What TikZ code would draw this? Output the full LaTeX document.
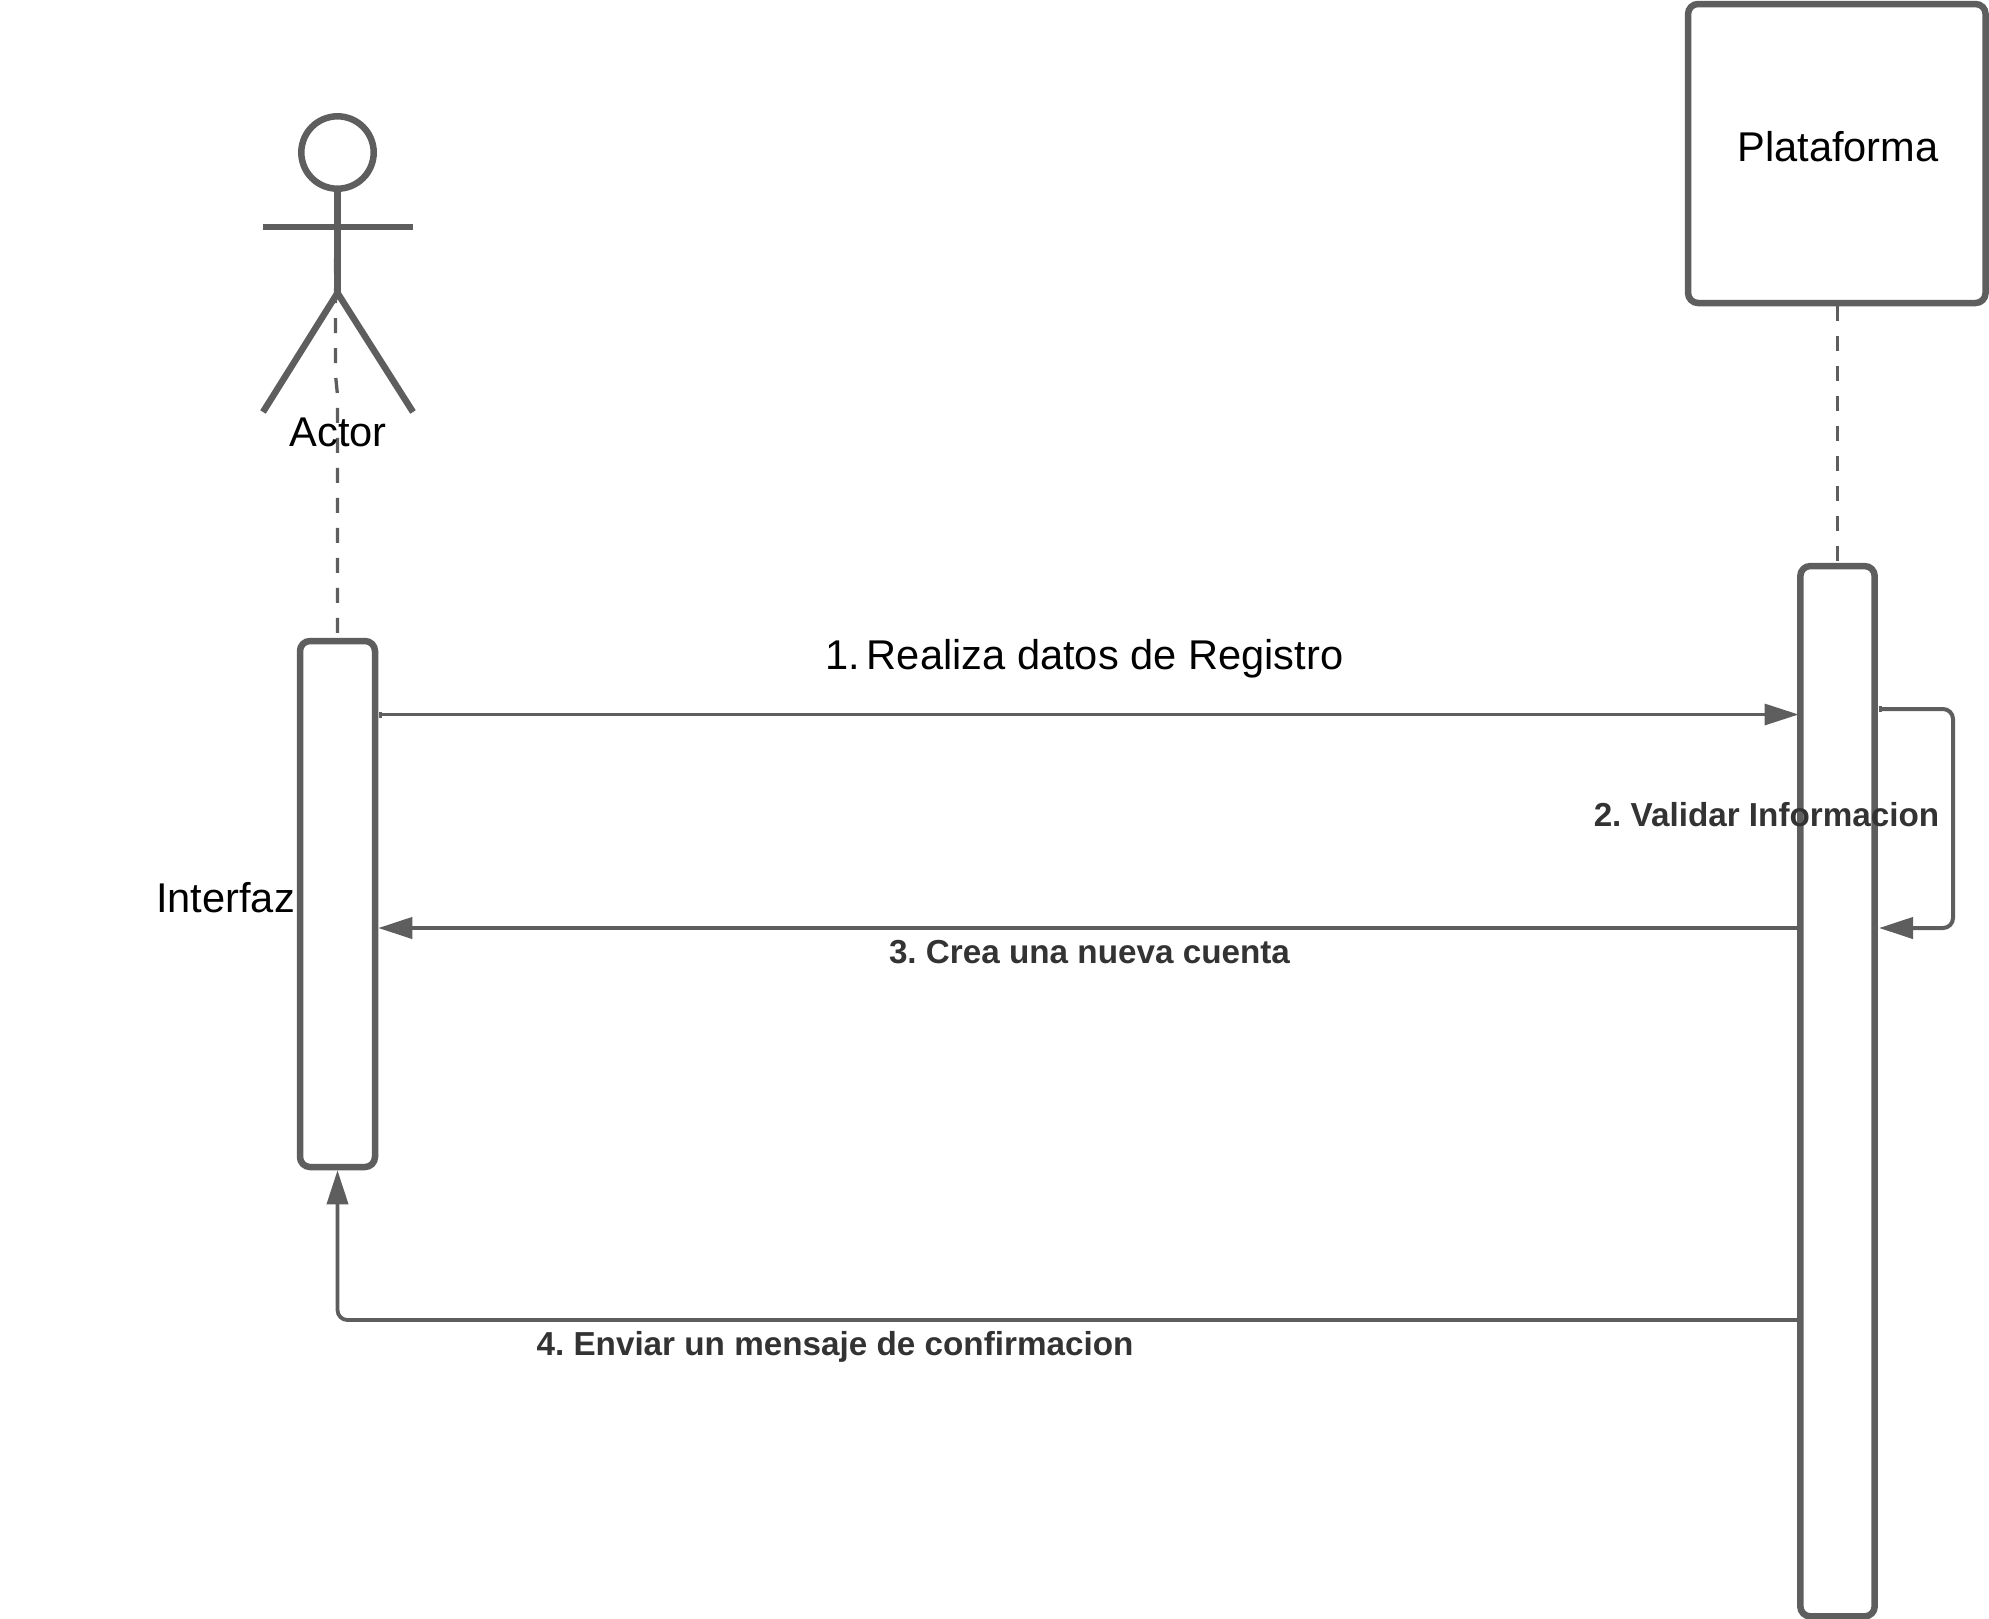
\documentclass[tikz,border=0pt]{standalone}
\usepackage{fontspec}
\setmainfont{Liberation Sans}
\usetikzlibrary{arrows.meta,calc}
\definecolor{ln}{HTML}{5E5E5E}
\definecolor{lbl}{HTML}{333333}
\tikzset{
  x=1pt,y=-1pt,
  box/.style={draw=ln,line width=6.5pt,rounded corners=10pt,inner sep=0pt,fill=white},
  figure/.style={draw=ln,line width=6.5pt},
  life/.style={draw=ln,line width=3.3pt,dash pattern=on 15pt off 15pt},
  tipend/.style={-{Triangle[length=34pt,width=21pt,fill=ln]}},
  msg/.style={draw=ln,line width=3.8pt,rounded corners=10pt,tipend},
  msgb/.style={draw=ln,line width=4pt,rounded corners=10pt,tipend},
  msgs/.style={draw=ln,line width=3.3pt,rounded corners=10pt,{Square[length=3pt,width=6pt,fill=ln]}-{Triangle[length=34pt,width=21pt,fill=ln]}},
  big/.style={font=\fontsize{41.6}{48}\selectfont,text=black,inner sep=0pt},
  bold/.style={font=\fontsize{33.25}{40}\selectfont\bfseries,text=lbl,inner sep=0pt},
}
\frenchspacing
\begin{document}
\begin{tikzpicture}
\useasboundingbox (0,0) rectangle (1989,1618);
% coordinates
\coordinate (lifeA) at (335.5,258);
\coordinate (lifeB) at (335.5,375);
\coordinate (lifeC) at (337.5,395);
\coordinate (hip) at (337.5,293);
\coordinate (armL) at (263,227);
\coordinate (armR) at (413,227);
\coordinate (footL) at (263,412);
\coordinate (footR) at (413,412);
% boxes
\node[box,minimum width=297.5pt,minimum height=299pt] (plat) at (1836.8,153.5) {};
\node[box,minimum width=75pt,minimum height=526pt] (act1) at (337.5,904) {};
\node[box,minimum width=74.4pt,minimum height=1050.3pt] (act2) at (1837.5,1091.2) {};
% lifelines
\draw[life] (lifeA) -- (lifeB) -- (lifeC) -- (act1.north);
\draw[life] (plat.south -| act2.north) -- (act2.north);
% actor
\node[circle,draw=ln,line width=6.5pt,inner sep=0pt,minimum size=72.4pt] (head) at (337.5,152.5) {};
\draw[figure] (head.south) -- (hip);
\draw[figure] (armL) -- (armR);
\draw[figure] (footL) -- (hip) -- (footR);
% messages
\coordinate (m1s) at (379,714.5);
\coordinate (m1e) at ($(act2.west |- m1s)+(1.5,0)$);
\draw[msgs] (m1s) -- (m1e);
\coordinate (m2s) at (1879,709);
\coordinate (m2a) at (1953,709);
\coordinate (m2b) at (1953,928);
\coordinate (m2e) at (1879,928);
\draw[msgs,line width=4pt] (m2s) -- (m2a) -- (m2b) -- (m2e);
\coordinate (m3s) at (act2.west |- m2e);
\coordinate (m3e) at (act1.east |- m2e);
\draw[msgb] (m3s) -- (m3e);
\coordinate (m4s) at (1797,1320);
\coordinate (m4c) at (act1.south |- m4s);
\draw[msg] (m4s) -- (m4c) -- (act1.south);
% labels
\node[big] (tplat) at (1838,147) {Plataforma};
\node[big] (tactor) at (338,432) {Actor};
\node[big] (tint) at (225.5,898) {Interfaz};
\node[big,anchor=base west] (t1) at (825,669) {1.\hspace{7pt}Realiza datos de Registro};
\node[bold] (t2) at (1766.5,815) {2. Validar Informacion};
\node[bold] (t3) at (1089.5,952) {3. Crea una nueva cuenta};
\node[bold] (t4) at (835,1346.5) {4. Enviar un mensaje de confirmacion};
\end{tikzpicture}
\end{document}
